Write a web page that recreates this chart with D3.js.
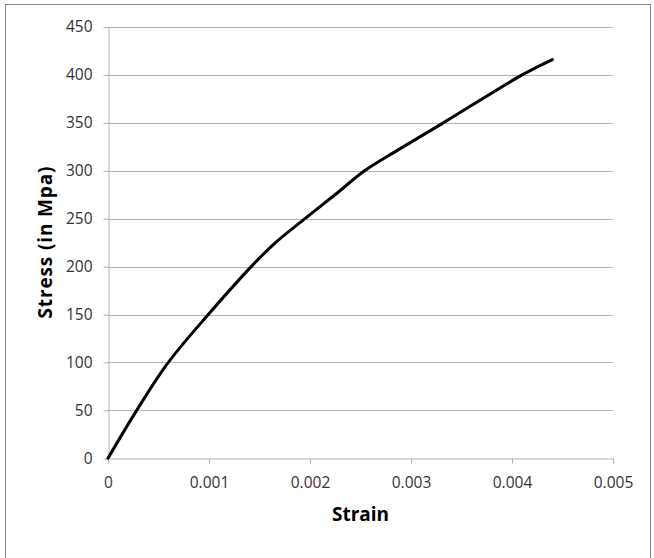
<!DOCTYPE html>
<html>
<head>
<meta charset="utf-8">
<script src="https://cdn.jsdelivr.net/npm/d3@7"></script>
<style>
  body { margin: 0; background: #fff; }
  text { font-family: "Open Sans", "Noto Sans", sans-serif; }
</style>
</head>
<body>
<div class="vis-holder"></div>
<script>
const width = 654;
const height = 558;

// strain / stress readings taken off the curve
const strain = [0, 0.000284, 0.000597, 0.000993, 0.001418, 0.001637, 0.00195, 0.00226, 0.00254, 0.00286, 0.00332, 0.0041, 0.0044];
const stress = [0, 50, 100, 150, 200, 223, 250, 276, 300, 321, 350, 400, 416];
const xTicks = [0, 0.001, 0.002, 0.003, 0.004, 0.005];
const yTicks = [0, 50, 100, 150, 200, 250, 300, 350, 400, 450];

const margin = {top: 27, right: 41, bottom: 100, left: 108};

const svg = d3.select(".vis-holder").append("svg")
    .attr("width", width)
    .attr("height", height);

// outer chart border
svg.append("rect")
    .attr("x", 5.5)
    .attr("y", 4.5)
    .attr("width", 645)
    .attr("height", 560)
    .attr("fill", "none")
    .attr("stroke", "#868686");

const x = d3.scaleLinear()
    .domain([0, 0.005])
    .range([margin.left, width - margin.right]);

const y = d3.scaleLinear()
    .domain([0, 450])
    .range([458.3, margin.top]);

// horizontal gridlines
svg.append("g")
    .selectAll("line")
    .data(yTicks.filter(d => d > 0))
    .enter().append("line")
    .attr("x1", x(0))
    .attr("x2", x(0.005))
    .attr("y1", d => Math.round(y(d)) + 0.5)
    .attr("y2", d => Math.round(y(d)) + 0.5)
    .attr("stroke", "#b3b3b3");

const xAxis = svg.append("g")
    .attr("transform", `translate(0,${Math.round(y(0)) + 0.5})`)
    .call(d3.axisBottom(x).tickValues(xTicks).tickSize(5).tickSizeOuter(0).tickPadding(13)
        .tickFormat(d => d === 0 ? "0" : d3.format(".3f")(d)));

const yAxis = svg.append("g")
    .attr("transform", `translate(${Math.round(x(0)) + 0.5},0)`)
    .call(d3.axisLeft(y).tickValues(yTicks).tickSize(5).tickSizeOuter(0).tickPadding(11));

[xAxis, yAxis].forEach(function(g) {
    g.select(".domain").attr("stroke", "#b3b3b3");
    g.selectAll(".tick line").attr("stroke", "#b3b3b3");
    g.selectAll(".tick text")
        .attr("fill", "#333")
        .style("font-size", "15.5px")
        .style("font-family", "'Open Sans', sans-serif");
});

const points = strain.map((s, i) => [s, stress[i]]);

const line = d3.line()
    .x(d => x(d[0]))
    .y(d => y(d[1]))
    .curve(d3.curveCatmullRom.alpha(0.5));

svg.append("path")
    .datum(points)
    .attr("d", line)
    .attr("fill", "none")
    .attr("stroke", "#000")
    .attr("stroke-width", 3)
    .attr("stroke-linecap", "round");

svg.append("text")
    .attr("x", (x(0) + x(0.005)) / 2)
    .attr("y", 521)
    .attr("text-anchor", "middle")
    .style("font-size", "19px")
    .style("font-weight", "bold")
    .text("Strain");

svg.append("text")
    .attr("transform", "translate(52,242.5) rotate(-90)")
    .attr("text-anchor", "middle")
    .attr("textLength", 152)
    .attr("lengthAdjust", "spacing")
    .style("font-size", "19px")
    .style("font-weight", "bold")
    .text("Stress (in Mpa)");
</script>
</body>
</html>
